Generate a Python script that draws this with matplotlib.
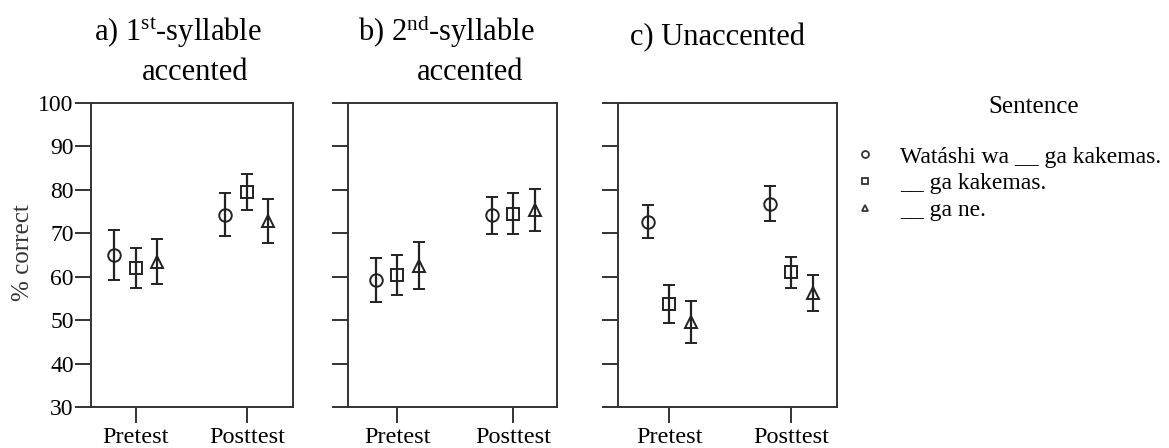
import matplotlib
matplotlib.use("Agg")
import matplotlib.pyplot as plt
from matplotlib.lines import Line2D
import numpy as np

# ---------------- data ----------------
conditions = ["Pretest", "Posttest"]
sentences = ["Watáshi wa __ ga kakemas.", "__ ga kakemas.", "__ ga ne."]
markers = ["o", "s", "^"]

# means [sentence][condition]
a_means = [[65.0, 74.3], [62.0, 79.5], [63.5, 72.8]]
a_errs = [[5.7, 5.0], [4.6, 4.2], [5.2, 5.0]]
b_means = [[59.2, 74.1], [60.3, 74.5], [62.5, 75.4]]
b_errs = [[5.1, 4.3], [4.6, 4.7], [5.4, 4.8]]
c_means = [[72.6, 76.8], [53.8, 61.0], [49.5, 56.2]]
c_errs = [[3.8, 4.0], [4.4, 3.6], [4.8, 4.2]]

yticks = [30, 40, 50, 60, 70, 80, 90, 100]

# ---------------- style ----------------
plt.rcParams["font.family"] = ["Liberation Serif", "DejaVu Serif"]
plt.rcParams["mathtext.fontset"] = "custom"
plt.rcParams["mathtext.rm"] = "Liberation Serif"
plt.rcParams["mathtext.it"] = "Liberation Serif:italic"
plt.rcParams["mathtext.bf"] = "Liberation Serif:bold"

W, H = 1169, 448
fig = plt.figure(figsize=(W / 100, H / 100), dpi=100)

spine_c = "#333333"
mark_c = "#222222"

# panel rectangles in pixels: left, right ; xlims
panels = [
    (91, 293, (0.599, 2.414), a_means, a_errs),
    (348, 557, (0.574, 2.379), b_means, b_errs),
    (618, 837, (0.578, 2.373), c_means, c_errs),
]
top_px, bot_px = 103, 407

axes = []
for i, (l, r, xl, means, errs) in enumerate(panels):
    ax = fig.add_axes([l / W, 1 - bot_px / H, (r - l) / W, (bot_px - top_px) / H])
    axes.append(ax)
    ax.set_xlim(*xl)
    ax.set_ylim(30, 100)
    width_px = r - l
    off = 21.5 / (width_px / (xl[1] - xl[0]))
    base = np.arange(1, len(conditions) + 1)
    for k, (m, e) in enumerate(zip(means, errs)):
        xs = base + (k - 1) * off
        ax.errorbar(xs, m, yerr=e, fmt=markers[k], ms=9, mfc="none",
                    mec=mark_c, mew=1.4, ecolor=mark_c, elinewidth=1.6,
                    capsize=4, capthick=1.6, zorder=3)
    ax.set_xticks(base)
    ax.set_xticklabels(conditions, fontsize=17.5)
    ax.set_yticks(yticks)
    if i == 0:
        ax.set_yticklabels([str(t) for t in yticks], fontsize=17)
    else:
        ax.set_yticklabels([])
    for s in ax.spines.values():
        s.set_color(spine_c)
        s.set_linewidth(1.4)
    ax.tick_params(axis="y", length=11.5, width=1.4, color=spine_c, pad=1)
    ax.tick_params(axis="x", length=11.5, width=1.4, color=spine_c, pad=3)

fig.text(23 / W, 1 - 253 / H, "% correct", fontsize=18, color="#333333",
         rotation=90, ha="center", va="center")

# titles (two lines, placed separately)
def ftxt(x, y, s, **kw):
    fig.text(x / W, 1 - y / H, s, fontsize=22, ha="left", va="baseline", **kw)

ftxt(94, 41, r"a) 1$^{\mathrm{st}}$-syllable")
ftxt(142, 80, "accented")
ftxt(358, 41, r"b) 2$^{\mathrm{nd}}$-syllable")
ftxt(417, 80, "accented")
ftxt(630, 45, "c) Unaccented")

# legend
handles = [Line2D([], [], ls="none", marker=mk, ms=5, mfc="none",
                  mec="#333333", mew=1.3) for mk in markers]
leg = fig.legend(handles, sentences, loc="upper left",
                 bbox_to_anchor=(853 / W, 1 - 146 / H), frameon=False,
                 fontsize=17, handlelength=1.0, handletextpad=1.0,
                 labelspacing=0.22, borderaxespad=0, borderpad=0)
fig.text(1034 / W, 1 - 107 / H, "Sentence", fontsize=18, ha="center", va="center")

fig.savefig("out.png", dpi=100)
